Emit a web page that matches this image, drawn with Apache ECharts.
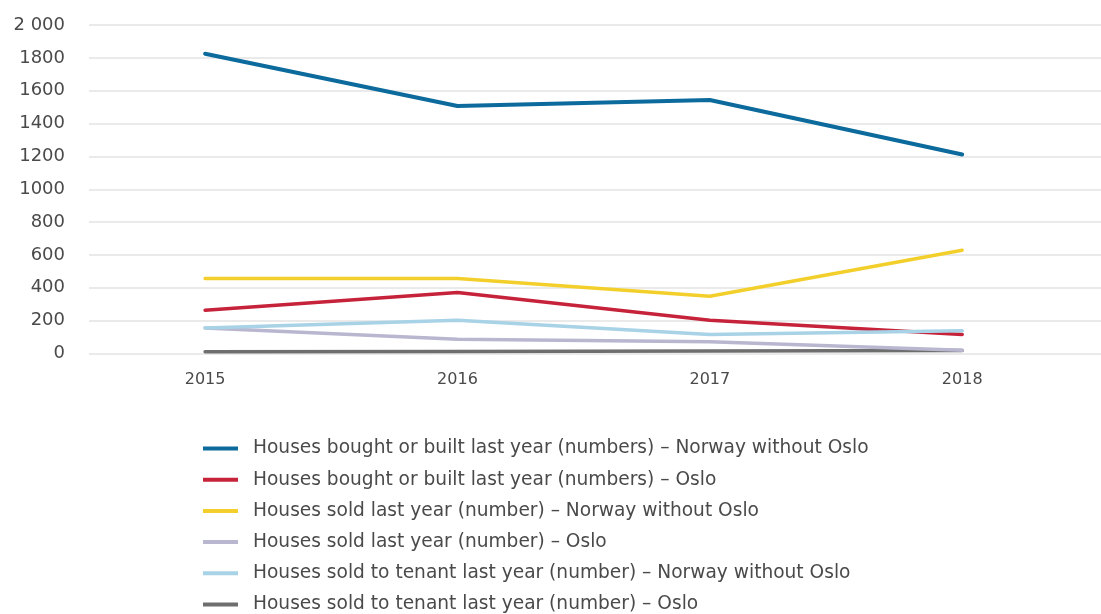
<!DOCTYPE html>
<html>
<head>
<meta charset="utf-8">
<title>Houses bought, built and sold</title>
<script src="https://cdn.jsdelivr.net/npm/echarts@6/dist/echarts.min.js"></script>
<style>
  html, body { margin: 0; padding: 0; background: #ffffff; }
  #chart { width: 1101px; height: 614px; }
</style>
</head>
<body>
<div id="chart"></div>
<script>
// Years on the horizontal axis
const years = ['2015', '2016', '2017', '2018'];

// Series values (number of houses)
const boughtBuiltNorway = [1825, 1507, 1543, 1212];
const boughtBuiltOslo   = [264, 371, 203, 116];
const soldNorway        = [457, 456, 349, 629];
const soldOslo          = [156, 87, 71, 20];
const tenantNorway      = [156, 203, 116, 138];
const tenantOslo        = [10, 12, 15, 18];

// Vertical axis ticks
const yTicks = [0, 200, 400, 600, 800, 1000, 1200, 1400, 1600, 1800, 2000];
const yTickLabels = ['0', '200', '400', '600', '800', '1000', '1200', '1400', '1600', '1800', '2 000'];

const seriesDefs = [
  { name: 'Houses bought or built last year (numbers) – Norway without Oslo', data: boughtBuiltNorway, color: '#0c6b9c' },
  { name: 'Houses bought or built last year (numbers) – Oslo', data: boughtBuiltOslo, color: '#c6223a' },
  { name: 'Houses sold last year (number) – Norway without Oslo', data: soldNorway, color: '#f3cf2c' },
  { name: 'Houses sold last year (number) – Oslo', data: soldOslo, color: '#b9b6d0' },
  { name: 'Houses sold to tenant last year (number) – Norway without Oslo', data: tenantNorway, color: '#a8d2e6' },
  { name: 'Houses sold to tenant last year (number) – Oslo', data: tenantOslo, color: '#6e6e6e' }
];

// Drawing order: lighter lines underneath, main lines on top
const drawOrder = [4, 3, 5, 2, 1, 0];

const FONT = 'DejaVu Sans';
const TEXT_COLOR = '#4a4a4a';

const chart = echarts.init(document.getElementById('chart'), null, { renderer: 'canvas' });

chart.setOption({
  animation: false,
  backgroundColor: '#ffffff',
  grid: { left: 89, right: 0, top: 25, height: 328.5, containLabel: false },
  xAxis: {
    type: 'value',
    min: -0.46,
    max: 3.55,
    axisLine: { show: false },
    axisTick: { show: false },
    splitLine: { show: false },
    axisLabel: {
      customValues: years.map((_, i) => i),
      formatter: v => years[Math.round(v)],
      margin: 18,
      fontFamily: FONT,
      fontSize: 16,
      color: TEXT_COLOR
    }
  },
  yAxis: {
    type: 'value',
    min: 0,
    max: 2000,
    interval: 200,
    axisLine: { show: false },
    axisTick: { show: false },
    splitLine: { lineStyle: { color: '#e3e3e3', width: 1.5 } },
    axisLabel: {
      formatter: v => yTickLabels[yTicks.indexOf(v)],
      margin: 24,
      fontFamily: FONT,
      fontSize: 18,
      color: TEXT_COLOR
    }
  },
  legend: {
    orient: 'vertical',
    left: 203,
    top: 439,
    height: 190,
    padding: 0,
    icon: 'rect',
    itemWidth: 35,
    itemHeight: 4,
    itemGap: 12.2,
    data: seriesDefs.map(s => s.name),
    textStyle: {
      fontFamily: FONT,
      fontSize: 18.6,
      lineHeight: 18,
      color: TEXT_COLOR,
      padding: [0, 0, 0, 10]
    }
  },
  series: drawOrder.map(i => {
    const s = seriesDefs[i];
    return {
      name: s.name,
      type: 'line',
      data: s.data.map((v, k) => [k, v]),
      showSymbol: false,
      symbol: 'none',
      color: s.color,
      lineStyle: { color: s.color, width: i === 0 ? 4 : 3.5, cap: 'round', join: 'round' },
      z: 10 - drawOrder.indexOf(i) + 2
    };
  })
});
</script>
</body>
</html>
